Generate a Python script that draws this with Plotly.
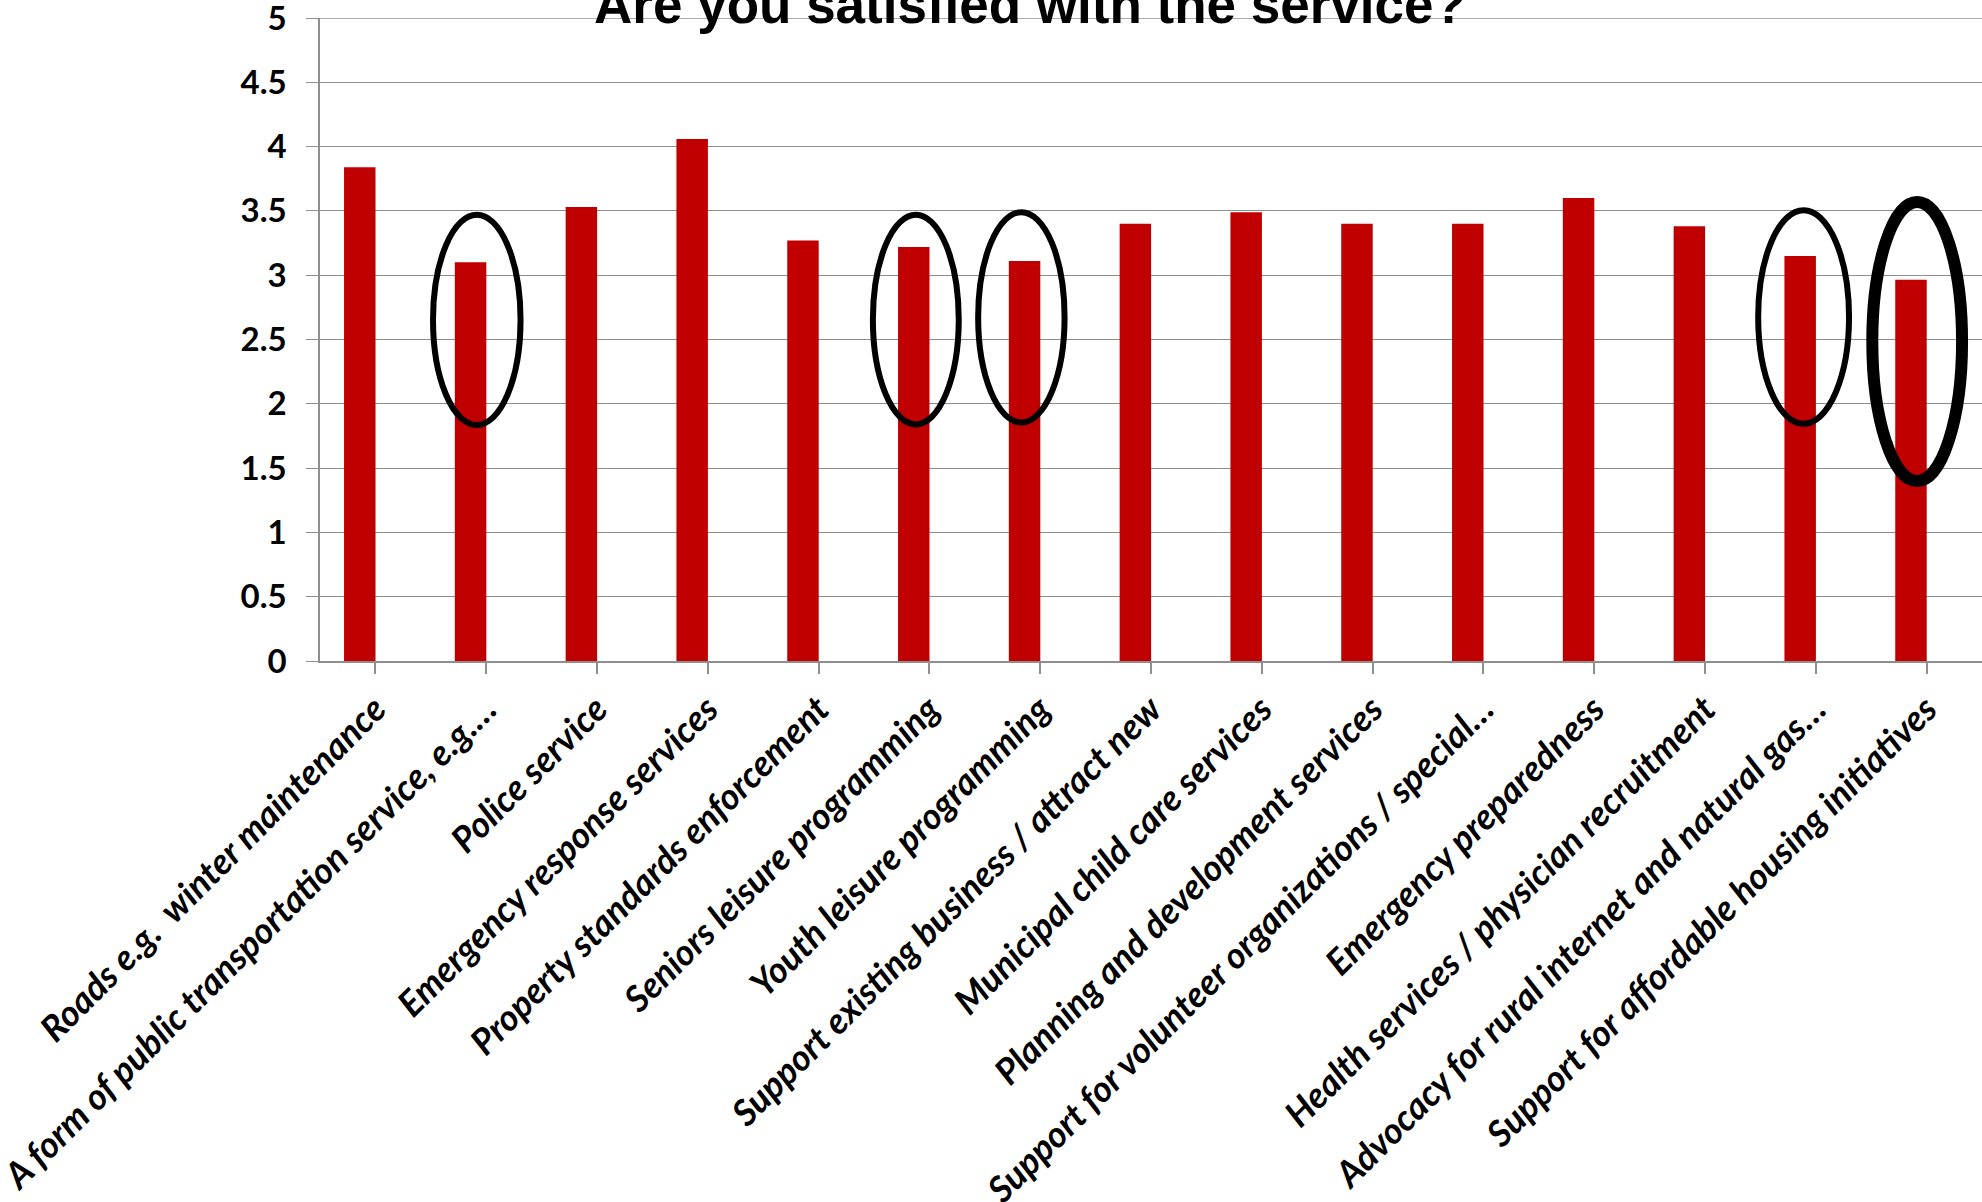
import plotly.graph_objects as go

categories = [
    "Roads e.g.  winter maintenance",
    "A form of public transportation service, e.g.…",
    "Police service",
    "Emergency response services",
    "Property standards enforcement",
    "Seniors leisure programming",
    "Youth leisure programming",
    "Support existing business / attract new",
    "Municipal child care services",
    "Planning and development services",
    "Support for volunteer organizations / special…",
    "Emergency preparedness",
    "Health services / physician recruitment",
    "Advocacy for rural internet and natural gas…",
    "Support for affordable housing initiatives",
]
satisfaction = [3.84, 3.10, 3.53, 4.06, 3.27, 3.22, 3.11, 3.40, 3.49, 3.40, 3.40, 3.60, 3.38, 3.15, 2.965]
y_ticks = [0, 0.5, 1, 1.5, 2, 2.5, 3, 3.5, 4, 4.5, 5]
y_max = 5

# highlighted bars (category index) with ellipse extents (x0, x1, y0, y1, line width)
highlights = [
    (0.52, 1.31, 1.835, 3.47, 6),
    (4.49, 5.265, 1.84, 3.47, 6),
    (5.44, 6.22, 1.855, 3.49, 6),
    (12.48, 13.30, 1.845, 3.505, 6),
    (13.51, 14.32, 1.40, 3.57, 12),
]

grid = "#8E8E8E"

fig = go.Figure()
fig.add_trace(go.Bar(
    x=list(range(len(categories))),
    y=satisfaction,
    width=0.284,
    offset=-0.283,
    marker=dict(color="#C00000", line=dict(width=0)),
))

# top gridline (plotly drops the gridline at the very edge of the range)
fig.add_shape(type="line", xref="paper", yref="y", x0=0, x1=1, y0=y_max, y1=y_max,
              line=dict(color=grid, width=1.3), layer="below")

for x0, x1, y0, y1, lw in highlights:
    fig.add_shape(type="circle", xref="x", yref="y", x0=x0, x1=x1, y0=y0, y1=y1,
                  line=dict(color="black", width=lw), layer="above")

fig.update_layout(
    width=1982, height=1202,
    margin=dict(l=320, r=0, t=18, b=541),
    paper_bgcolor="white", plot_bgcolor="white",
    showlegend=False,
    title=dict(
        text="<b>Are you satisfied with the service?</b>",
        font=dict(family="Liberation Sans", size=53, color="black"),
        xref="container", yref="container",
        x=1030 / 1982, xanchor="center",
        y=1 - 23 / 1202, yanchor="bottom",
    ),
    xaxis=dict(
        range=[-0.5, 14.5],
        tickmode="array",
        tickvals=list(range(len(categories))),
        ticktext=categories,
        tickangle=-45,
        tickfont=dict(family="Lato", size=36, color="black", weight="bold", style="italic"),
        ticklabeloverflow="allow",
        showgrid=False,
        showline=True, linecolor=grid, linewidth=1.5,
        ticks="outside", ticklen=11, tickcolor=grid, tickwidth=1.5,
        automargin=False,
        zeroline=False,
    ),
    yaxis=dict(
        range=[0, y_max],
        tickmode="array",
        tickvals=y_ticks,
        ticktext=[f"{v:g}" for v in y_ticks],
        tickfont=dict(family="Lato", size=33, color="black", weight="bold"),
        ticklabeloverflow="allow",
        showgrid=True, gridcolor=grid, gridwidth=1.3,
        showline=True, linecolor=grid, linewidth=1.5,
        ticks="outside", ticklen=12, tickcolor=grid, tickwidth=1.3,
        ticklabelstandoff=13,
        automargin=False,
        zeroline=False,
    ),
)

# x ticks at category boundaries
fig.update_xaxes(tickson="boundaries")

fig.write_html("out.html")
